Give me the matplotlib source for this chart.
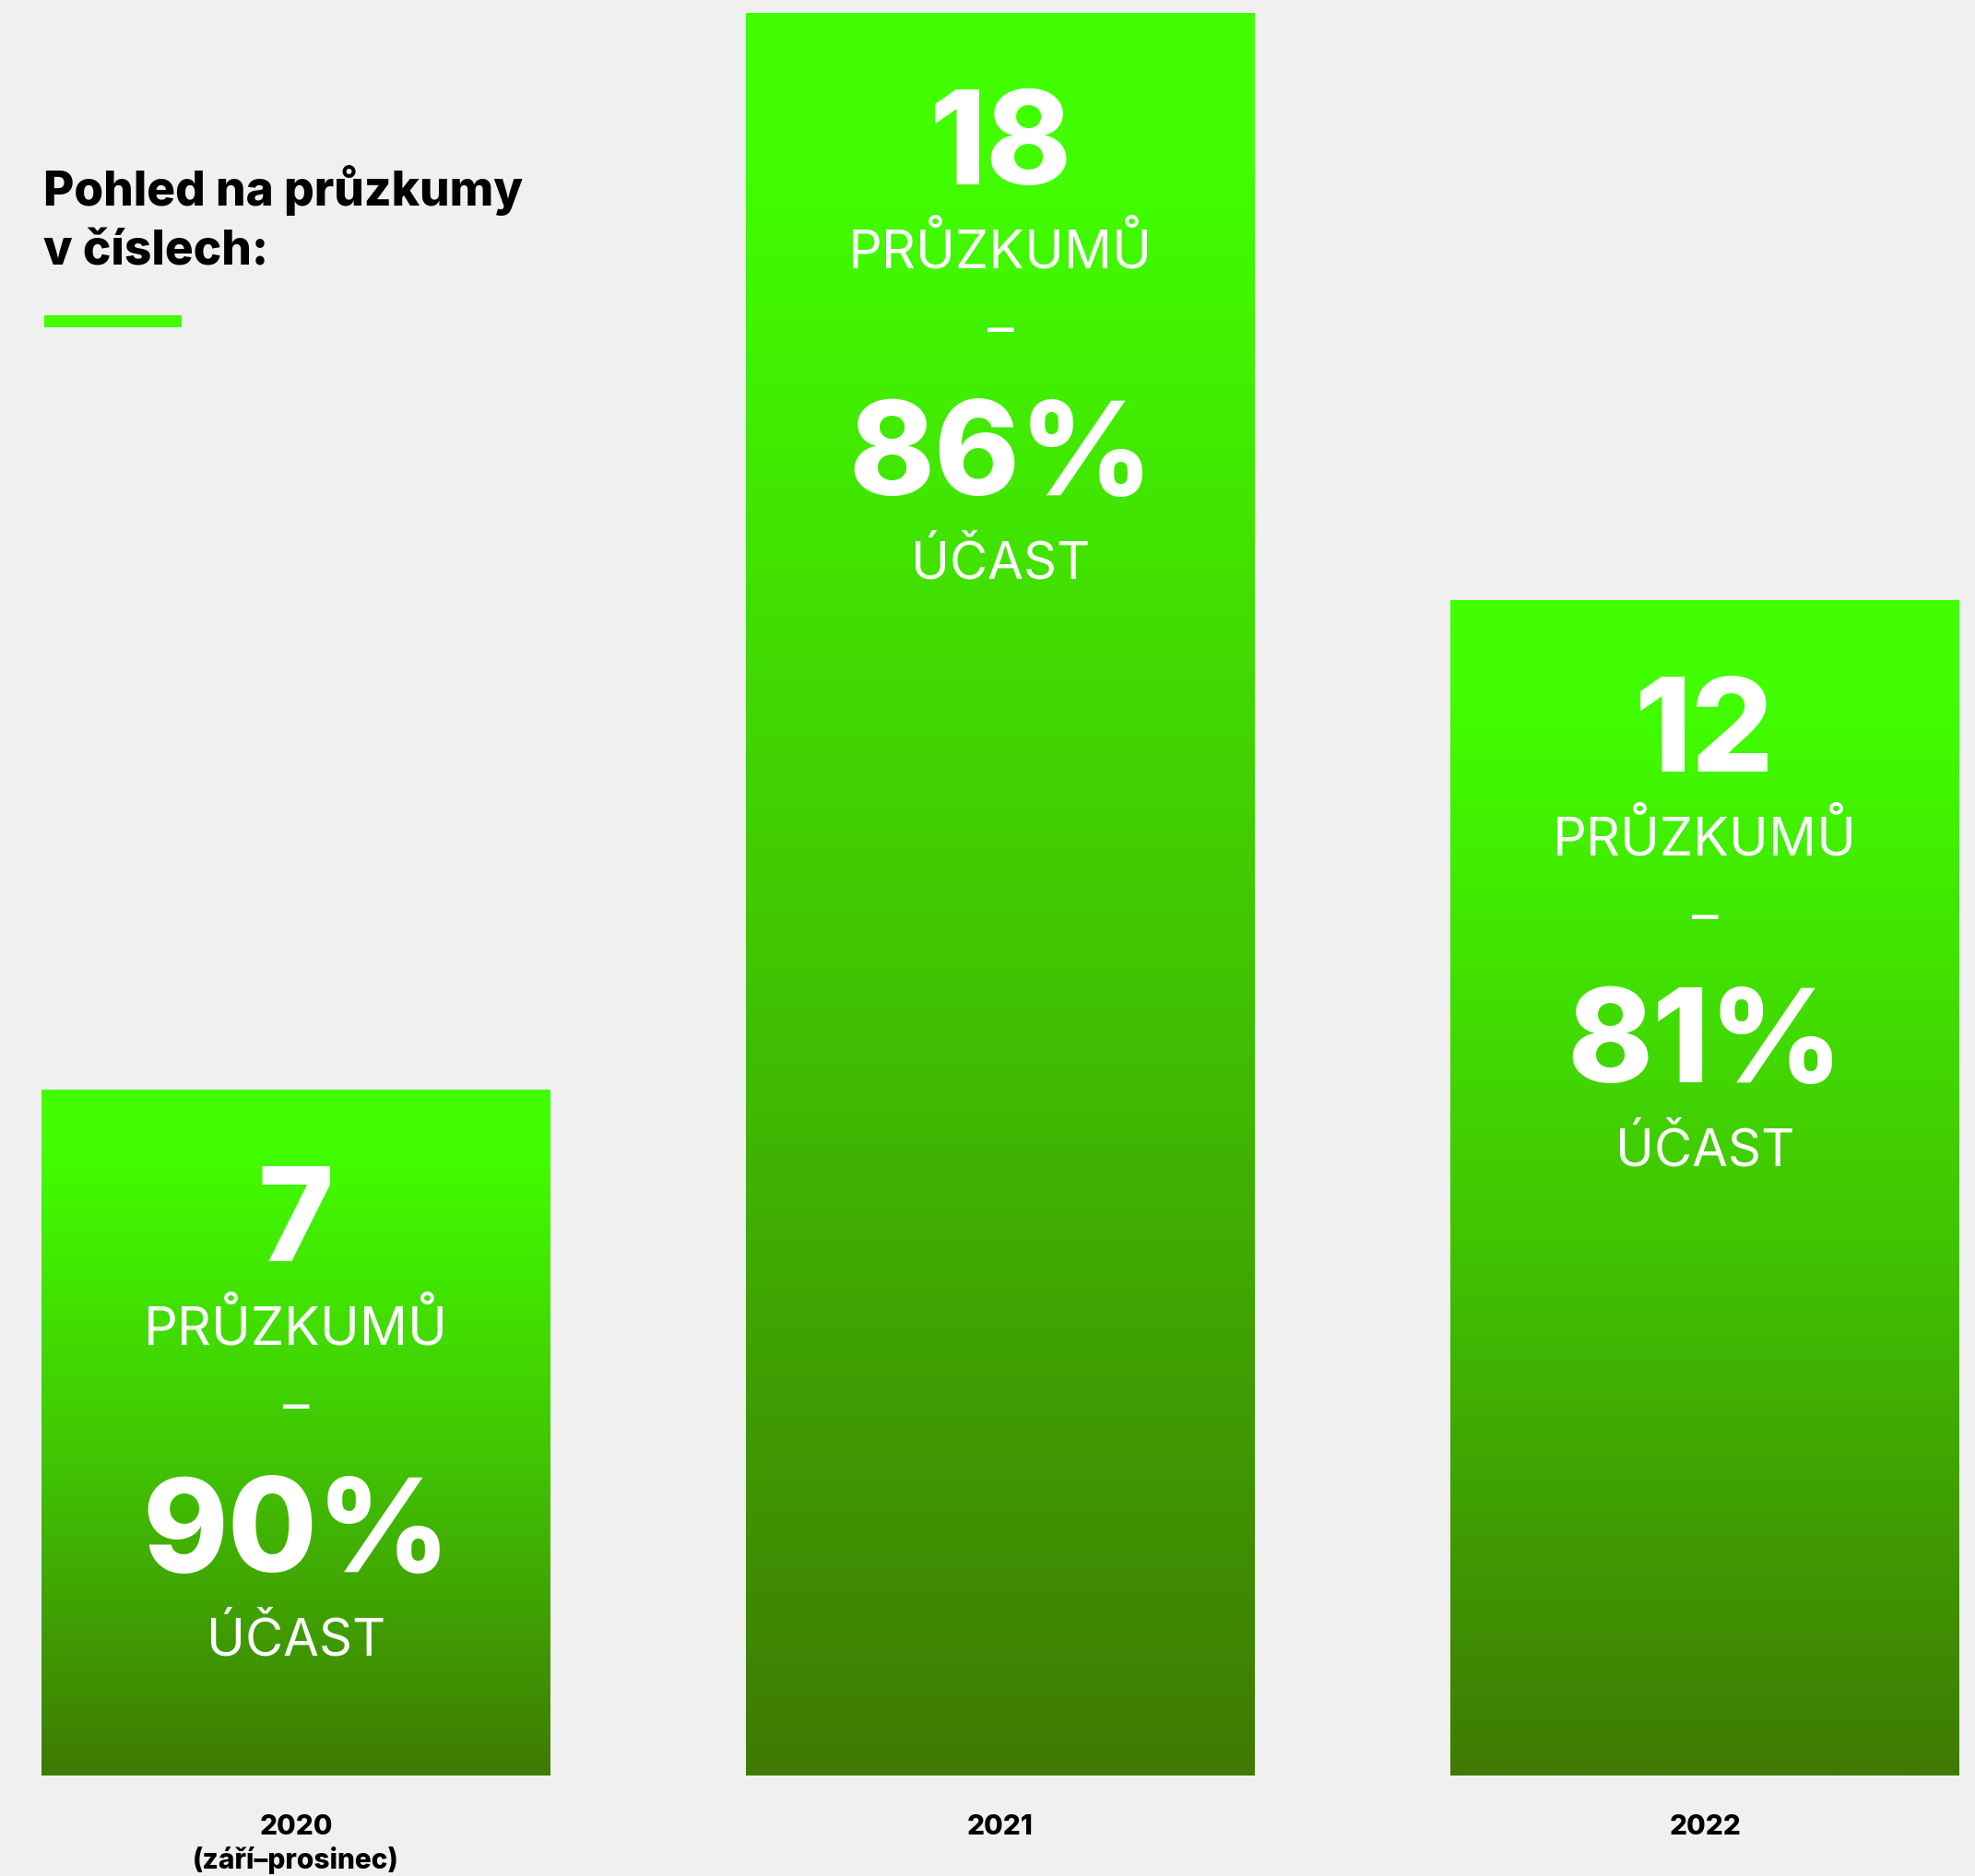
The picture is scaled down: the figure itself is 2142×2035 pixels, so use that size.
import numpy as np
import matplotlib
matplotlib.use("Agg")
import matplotlib.pyplot as plt
from matplotlib.colors import LinearSegmentedColormap
from matplotlib.patches import Rectangle

# ---- data ----
years = ["2020\n(září–prosinec)", "2021", "2022"]
surveys = [7, 18, 12]
participation = [90, 86, 81]
title_lines = ["Pohled na průzkumy", "v číslech:"]
unit_label = "PRŮZKUMŮ"
part_label = "ÚČAST"

# ---- style ----
W, H, DPI = 2142, 2035, 100
BG = "#f0f0f0"
TOP = "#42ff00"
BOTTOM = "#3f7a03"
BOLD_FAMILY = ["Inter", "Lato", "DejaVu Sans"]
LIGHT_FAMILY = ["Inter", "Lato", "DejaVu Sans"]
PX2PT = 72.0 / DPI

fig = plt.figure(figsize=(W / DPI, H / DPI), dpi=DPI, facecolor=BG)
ax = fig.add_axes([45 / W, (H - 1926) / H, 2080 / W, 1912 / H])
ax.set_facecolor("none")
ax.axis("off")

x = np.arange(len(surveys))
bar_w = 552 / 764
bars = ax.bar(x, surveys, width=bar_w, color="none", edgecolor="none")

cmap = LinearSegmentedColormap.from_list(
    "g", [(0.0, BOTTOM), (0.45, "#41c302"), (0.92, TOP), (1.0, TOP)])
grad = np.linspace(0, 1, 512).reshape(-1, 1)
for b in bars:
    x0, y0 = b.get_x(), b.get_y()
    im = ax.imshow(grad, extent=(x0, x0 + b.get_width(), y0, y0 + b.get_height()),
                   origin="lower", cmap=cmap, aspect="auto", interpolation="bilinear",
                   zorder=1)
    im.set_clip_path(b)

ax.set_xlim(-bar_w / 2, len(surveys) - 1 + bar_w / 2)
ax.set_ylim(0, max(surveys))

# texts inside bars (offsets in px below the bar top, converted to points)
for xi, n, p in zip(x, surveys, participation):
    def put(s, off_px, size, weight, family):
        ax.annotate(s, xy=(xi, n), xycoords="data",
                    xytext=(0, -off_px * PX2PT), textcoords="offset points",
                    ha="center", va="baseline", color="white",
                    fontsize=size, fontweight=weight, family=family, zorder=3)
    put(str(n), 186, 101, "heavy", BOLD_FAMILY)
    put(unit_label, 276, 41.5, "normal", LIGHT_FAMILY)
    put("–", 362, 41, "normal", LIGHT_FAMILY)
    put(f"{p}%", 523, 101, "heavy", BOLD_FAMILY)
    put(part_label, 613, 40.5, "normal", LIGHT_FAMILY)

# category labels below bars
for xi, lab in zip(x, years):
    ax.annotate(lab, xy=(xi, 0), xycoords="data",
                xytext=(0, -42 * PX2PT), textcoords="offset points",
                ha="center", va="top", color="black", fontsize=21.5,
                fontweight="heavy", family=BOLD_FAMILY, linespacing=1.3)

# title
for i, line in enumerate(title_lines):
    fig.text(47 / W, 1 - (223 + 64 * i) / H, line, ha="left", va="baseline",
             color="black", fontsize=37, fontweight="heavy", family=BOLD_FAMILY)

fig.add_artist(Rectangle((48 / W, 1 - 355 / H), 149 / W, 13 / H,
                         transform=fig.transFigure, facecolor=TOP, edgecolor="none"))

fig.savefig("out.png", dpi=DPI, facecolor=BG)
